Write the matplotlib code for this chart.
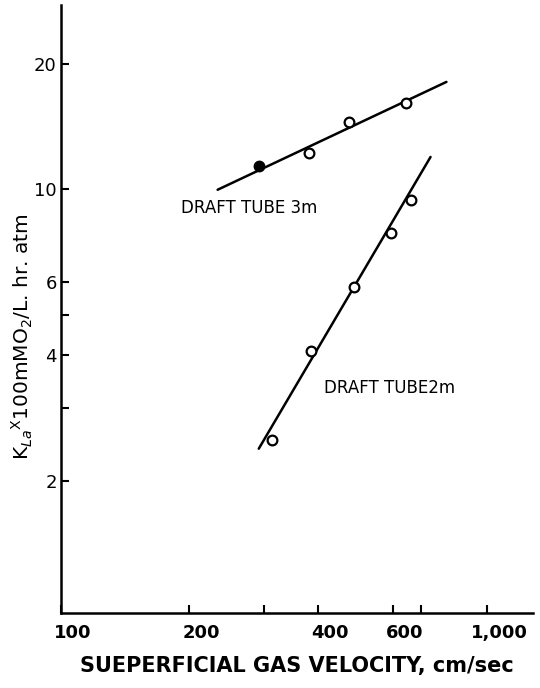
import matplotlib
matplotlib.use('Agg')
import matplotlib.pyplot as plt
import matplotlib.transforms as mtransforms
from matplotlib.ticker import FixedLocator, FixedFormatter, NullLocator

# measured points, draft tube 3 m
vel_3m = [291, 381, 473, 646]
kla_3m = [11.4, 12.2, 14.5, 16.1]
# fitted line ends, draft tube 3 m
fit_3m_x = [233, 802]
fit_3m_y = [9.98, 18.1]

# measured points, draft tube 2 m
vel_2m = [312, 385, 486, 593, 664]
kla_2m = [2.51, 4.10, 5.84, 7.87, 9.44]
# fitted line ends, draft tube 2 m
fit_2m_x = [291, 736]
fit_2m_y = [2.39, 11.96]

x_ticks = [100, 200, 300, 400, 600, 700, 1000]
x_labels = ['100', '200', '', '400', '600', '', '1,000']
y_ticks = [2, 3, 4, 5, 6, 10, 20]
y_labels = ['2', '', '4', '', '6', '10', '20']

fig = plt.figure(figsize=(5.4, 6.88), dpi=100)
ax = fig.add_axes([0.113, 0.109, 0.874, 0.884])

ax.set_xscale('log')
ax.set_yscale('log')
ax.set_xlim(100, 1280)
ax.set_ylim(0.965, 27.7)

# fitted lines
ax.plot(fit_3m_x, fit_3m_y, color='black', lw=1.8, solid_capstyle='round')
ax.plot(fit_2m_x, fit_2m_y, color='black', lw=1.8, solid_capstyle='round')

# data points (first 3 m point drawn solid)
ax.plot(vel_3m[:1], kla_3m[:1], 'o', ms=7, mfc='black', mec='black', mew=1.5)
ax.plot(vel_3m[1:], kla_3m[1:], 'o', ms=7, mfc='white', mec='black', mew=1.6)
ax.plot(vel_2m, kla_2m, 'o', ms=7, mfc='white', mec='black', mew=1.6)

ax.text(191, 9.03, 'DRAFT TUBE 3m', fontsize=12, ha='left', va='center')
ax.text(413, 3.34, 'DRAFT TUBE2m', fontsize=12, ha='left', va='center')

for side in ['top', 'right']:
    ax.spines[side].set_visible(False)
for side in ['left', 'bottom']:
    ax.spines[side].set_linewidth(1.8)

ax.xaxis.set_major_locator(FixedLocator(x_ticks))
ax.xaxis.set_major_formatter(FixedFormatter(x_labels))
ax.xaxis.set_minor_locator(NullLocator())
ax.yaxis.set_major_locator(FixedLocator(y_ticks))
ax.yaxis.set_major_formatter(FixedFormatter(y_labels))
ax.yaxis.set_minor_locator(NullLocator())

ax.tick_params(axis='both', direction='in', length=6, width=1.5, color='black')
ax.tick_params(axis='x', labelsize=13, pad=8)
ax.tick_params(axis='y', labelsize=13, pad=3)

# hand-lettered x labels sit a little right of their ticks
shift = mtransforms.ScaledTranslation(0.12, 0, fig.dpi_scale_trans)
for lbl in ax.get_xticklabels():
    lbl.set_fontweight('bold')
    lbl.set_transform(lbl.get_transform() + shift)

ax.set_xlabel('SUEPERFICIAL GAS VELOCITY, cm/sec', fontsize=15,
              fontweight='bold', labelpad=10)
ax.set_ylabel(r'K$_{La}$$^{\mathrm{X}}$100mMO$_2$/L. hr. atm', fontsize=14.5)
ax.yaxis.set_label_coords(-0.055, 0.455)

fig.savefig('out.png', dpi=100)
